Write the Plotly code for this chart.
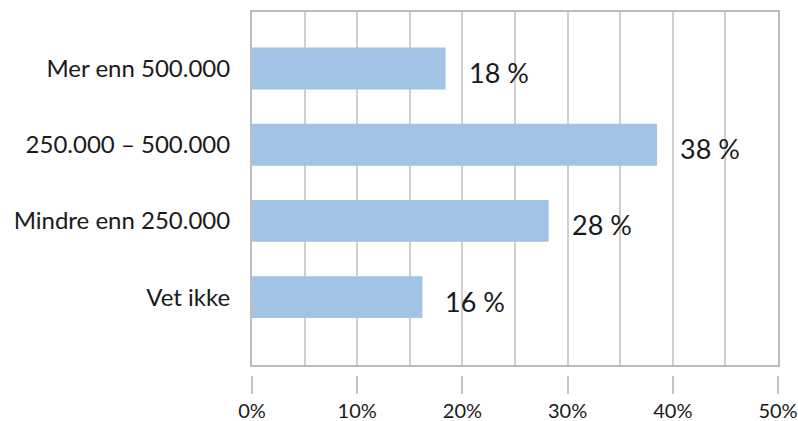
import plotly.graph_objects as go

categories = ["Mer enn 500.000", "250.000 – 500.000", "Mindre enn 250.000", "Vet ikke"]
values = [18.4, 38.5, 28.2, 16.2]
value_labels = ["18 %", "38 %", "28 %", "16 %"]
x_tickvals = [0, 10, 20, 30, 40, 50]
x_ticktext = ["0%", "10%", "20%", "30%", "40%", "50%"]

FONT = "Lato"
W, H = 798, 421
mt, mb, ml, mr = 12, 26, 252, 20
paper_h = H - mt - mb
plot_bottom_px = 365
ydom0 = (H - mb - plot_bottom_px) / paper_h
tick_line_px = 375
xpos2 = (H - mb - tick_line_px) / paper_h

fig = go.Figure()
fig.add_trace(go.Bar(
    y=categories, x=values, orientation="h",
    marker=dict(color="#a0c3e6", line=dict(width=0)),
    hoverinfo="skip", showlegend=False,
))
# invisible trace to activate second x axis for detached ticks
fig.add_trace(go.Scatter(x=[0, 50], y=[categories[0], categories[0]], xaxis="x2",
                         mode="markers", marker=dict(opacity=0), hoverinfo="skip",
                         showlegend=False))

for c, v, t in zip(categories, values, value_labels):
    fig.add_annotation(x=v, y=c, text=t, showarrow=False, xanchor="left",
                       xshift=21, yshift=-4,
                       font=dict(family=FONT, size=27, color="#1a1a1a"))

fig.update_layout(
    width=W, height=H,
    margin=dict(l=ml, r=mr, t=mt, b=mb, autoexpand=False),
    paper_bgcolor="white", plot_bgcolor="white",
    bargap=0.45,
    xaxis=dict(range=[0, 50], dtick=5, showgrid=True, gridcolor="#cfcfcf", gridwidth=2,
               showticklabels=False, ticks="", zeroline=False,
               showline=True, mirror=True, linecolor="#bcbcbc", linewidth=2),
    xaxis2=dict(range=[0, 50], overlaying="x", anchor="free", position=xpos2,
                side="bottom", tickvals=x_tickvals, ticktext=x_ticktext,
                ticks="outside", ticklen=18, tickwidth=2, tickcolor="#c4c4c4",
                showgrid=False, showline=False, zeroline=False,
                tickfont=dict(family=FONT, size=20, color="#1a1a1a")),
    yaxis=dict(type="category", categoryorder="array", categoryarray=categories,
               range=[3.89, -0.74], domain=[ydom0, 1],
               showgrid=False, zeroline=False, ticks="", ticklabelstandoff=15,
               showline=True, mirror=True, linecolor="#bcbcbc", linewidth=2,
               tickfont=dict(family=FONT, size=24, color="#1a1a1a")),
)

fig.write_html("out.html")
